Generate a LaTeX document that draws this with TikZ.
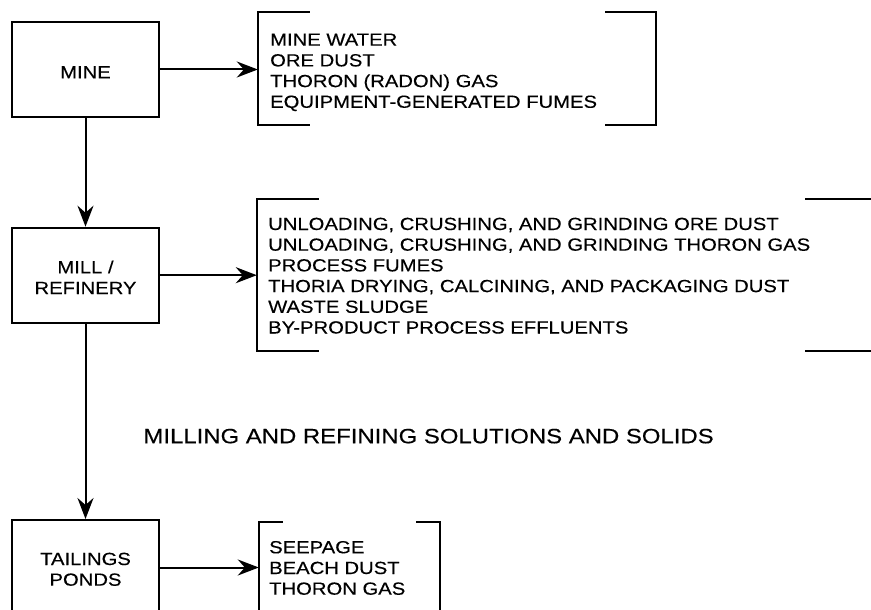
\documentclass[tikz,border=0pt]{standalone}
\usepackage{fontspec}
\setmainfont{Liberation Sans}[FakeStretch=1.15,FakeBold=0.3]
\usetikzlibrary{arrows.meta,calc}
\tikzset{
  ln/.style={line width=2pt},
  box/.style={draw, line width=2pt, minimum width=147pt, minimum height=95pt, inner sep=0pt},
  holder/.style={inner sep=0pt, minimum width=#1},
  lbl/.style={inner sep=0pt, font=\fontsize{17.6}{20.7}\selectfont},
  arr/.style={line width=2pt, -{Stealth[length=21pt,width=16pt,inset=7pt]}},
}
\newcommand{\lines}[1]{\begin{tabular}[t]{@{}l@{}}#1\end{tabular}}
\newcommand{\clines}[1]{\begin{tabular}[t]{@{}c@{}}#1\end{tabular}}
\begin{document}
\begin{tikzpicture}[x=1pt,y=-1pt]
\useasboundingbox (0,0) rectangle (871,610);

% process boxes
\node[box] (mine) at (85.5,69.5) {};
\node[box] (mill) at (85.5,275.2) {};
\node[box] (tail) at (85.5,567.5) {};
\node[lbl, anchor=base] (minet) at (85.5,78.3) {MINE};
\node[lbl, anchor=base] (millt) at (85.5,273.3) {\clines{MILL /\\REFINERY}};
\node[lbl, anchor=base] (tailt) at (85.5,565) {\clines{TAILINGS\\PONDS}};

% bracket holders
\node[holder=398pt, minimum height=113pt] (b1) at (457,68.5) {};
\node[holder=618pt, minimum height=152pt] (b2) at (566,275) {};
\node[holder=181pt, minimum height=88.7pt] (b3) at (349.5,566.7) {};

% brackets
\draw[ln] ($(b1.north west)+(52,0)$) -- (b1.north west) -- (b1.south west) -- ($(b1.south west)+(52,0)$);
\draw[ln] ($(b1.north east)+(-51,0)$) -- (b1.north east) -- (b1.south east) -- ($(b1.south east)+(-51,0)$);
\draw[ln] ($(b2.north west)+(62,0)$) -- (b2.north west) -- (b2.south west) -- ($(b2.south west)+(62,0)$);
\draw[ln] ($(b2.north east)+(-70,0)$) -- (b2.north east) -- (b2.south east) -- ($(b2.south east)+(-70,0)$);
\draw[ln] ($(b3.north west)+(24,0)$) -- (b3.north west) -- (b3.south west) -- ($(b3.south west)+(24,0)$);
\draw[ln] ($(b3.north east)+(-24,0)$) -- (b3.north east) -- (b3.south east) -- ($(b3.south east)+(-24,0)$);

% bracket texts
\node[lbl, anchor=base west] (t1) at (270,45.7) {\lines{MINE WATER\\ORE DUST\\THORON (RADON) GAS\\EQUIPMENT-GENERATED FUMES}};
\node[lbl, anchor=base west] (t2) at (268,230) {\lines{UNLOADING, CRUSHING, AND GRINDING ORE DUST\\UNLOADING, CRUSHING, AND GRINDING THORON GAS\\PROCESS FUMES\\THORIA DRYING, CALCINING, AND PACKAGING DUST\\WASTE SLUDGE\\BY-PRODUCT PROCESS EFFLUENTS}};
\node[lbl, anchor=base west] (t3) at (269,553.3) {\lines{SEEPAGE\\BEACH DUST\\THORON GAS}};

% caption
\node[inner sep=0pt, anchor=base west, font=\fontsize{20.8}{24}\selectfont] (cap) at (143.3,443.3) {MILLING AND REFINING SOLUTIONS AND SOLIDS};

% connectors
\draw[arr] (mine.east) -- (mine.east -| b1.west);
\draw[arr] (mill.east) -- (mill.east -| b2.west);
\draw[arr] (tail.east) -- (tail.east -| b3.west);
\draw[arr] (mine.south) -- (mill.north);
\draw[arr] (mill.south) -- (tail.north);
\end{tikzpicture}
\end{document}
